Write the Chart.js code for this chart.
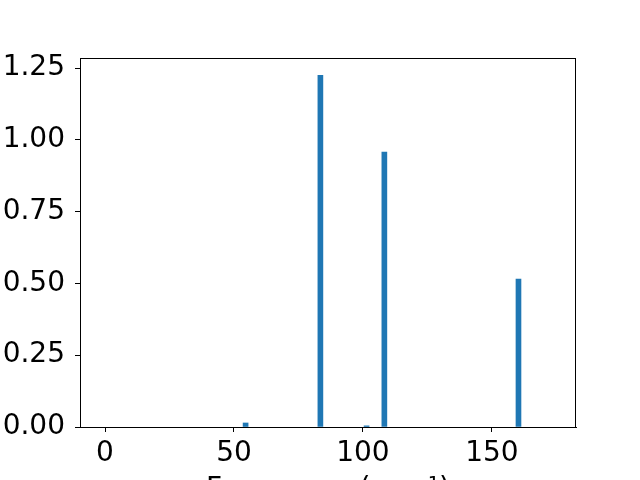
<!DOCTYPE html>
<html>
<head>
<meta charset="utf-8">
<script src="https://cdn.jsdelivr.net/npm/chart.js@4"></script>
<style>
  html, body { margin: 0; padding: 0; background: #fff; overflow: hidden; }
  #wrap { width: 640px; height: 520px; }
</style>
</head>
<body>
<div id="wrap"><canvas id="spectrum"></canvas></div>
<script>
// frequencies (cm^-1) and intensities
const freqs = [54.5, 83.5, 101.4, 108.3, 160.3];
const intensities = [0.014, 1.225, 0.004, 0.957, 0.515];

const xTicks = [0, 50, 100, 150];
const yTicks = [0, 0.25, 0.5, 0.75, 1.0, 1.25];

const fontFamily = "'DejaVu Sans', sans-serif";

// box around plot area like matplotlib spines
const frame = {
    id: 'frame',
    afterDraw(chart) {
        const a = chart.chartArea;
        const ctx = chart.ctx;
        ctx.save();
        ctx.strokeStyle = '#000';
        ctx.lineWidth = 1;
        ctx.strokeRect(a.left + 0.5, a.top + 0.5, a.right - a.left - 1, a.bottom - a.top);
        ctx.restore();
    }
};

const ctx = document.getElementById('spectrum').getContext('2d');
new Chart(ctx, {
    type: 'bar',
    data: {
        datasets: [{
            data: freqs.map((f, i) => ({ x: f, y: intensities[i] })),
            backgroundColor: '#1f77b4',
            borderWidth: 0,
            barThickness: 5
        }]
    },
    options: {
        responsive: true,
        maintainAspectRatio: false,
        animation: false,
        layout: { padding: { top: 58, right: 64, left: 0, bottom: 0 } },
        plugins: {
            legend: { display: false },
            tooltip: { enabled: false }
        },
        scales: {
            x: {
                type: 'linear',
                offset: false,
                min: -9.7,
                max: 182.6,
                afterBuildTicks: (s) => { s.ticks = xTicks.map(v => ({ value: v })); },
                afterFit: (s) => { s.height = 93; },
                grid: { offset: false, drawOnChartArea: false, tickLength: 5, tickColor: '#000' },
                border: { display: true, color: '#000' },
                ticks: {
                    color: '#000',
                    padding: 5,
                    maxRotation: 0,
                    font: { family: fontFamily, size: 28 }
                },
                title: {
                    display: true,
                    text: 'Frequency (cm\u207B\u00B9)',
                    color: '#000',
                    padding: { top: 0, bottom: 13 },
                    font: { family: fontFamily, size: 28 }
                }
            },
            y: {
                min: 0,
                max: 1.285,
                afterBuildTicks: (s) => { s.ticks = yTicks.map(v => ({ value: v })); },
                afterFit: (s) => { s.width = 80; },
                grid: { drawOnChartArea: false, tickLength: 5, tickColor: '#000' },
                border: { display: true, color: '#000' },
                ticks: {
                    color: '#000',
                    padding: 10,
                    font: { family: fontFamily, size: 28 },
                    callback: (v) => Number(v).toFixed(2)
                }
            }
        }
    },
    plugins: [frame]
});
</script>
</body>
</html>
